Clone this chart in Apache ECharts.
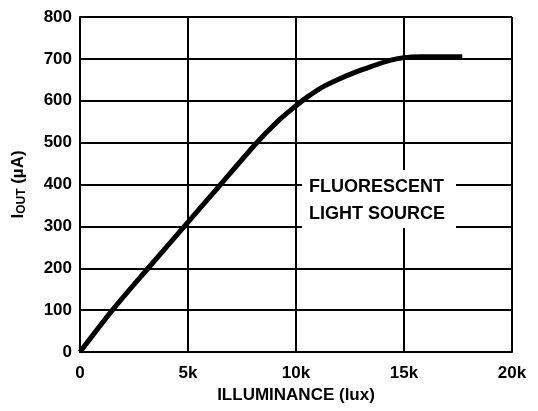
<!DOCTYPE html>
<html>
<head>
<meta charset="utf-8">
<script src="https://cdn.jsdelivr.net/npm/echarts@6/dist/echarts.min.js"></script>
<style>html,body{margin:0;padding:0;background:#fff;}#c{width:538px;height:411px;}</style>
</head>
<body>
<div id="c"></div>
<script>
// Illuminance (lux) and output current (µA)
var illuminance = [0, 1500, 3150, 4830, 6510, 8150, 9200, 10000, 10500, 11200, 12000, 12700, 13500, 14300, 15000, 15800, 16600, 17700];
var ioutValues  = [0, 100, 200, 300, 400, 498, 553, 588, 608, 632, 652, 667, 682, 696, 703, 705, 705, 705];
var xTicks = [0, 5000, 10000, 15000, 20000];
var xTickLabels = ['0', '5k', '10k', '15k', '20k'];
var yTicks = [0, 100, 200, 300, 400, 500, 600, 700, 800];
var annotationLines = ['FLUORESCENT', 'LIGHT SOURCE'];

var chart = echarts.init(document.getElementById('c'));
var font = 'Liberation Sans, Arial, sans-serif';
var data = illuminance.map(function (x, i) { return [x, ioutValues[i]]; });
chart.setOption({
  animation: false,
  backgroundColor: '#fff',
  grid: { left: 80, right: 26, top: 17, bottom: 59 },
  xAxis: {
    type: 'value', min: 0, max: 20000, interval: 5000,
    name: 'ILLUMINANCE (lux)', nameLocation: 'middle', nameGap: 35,
    nameTextStyle: { fontFamily: font, fontWeight: 'bold', fontSize: 17, color: '#000' },
    axisLine: { lineStyle: { color: '#000', width: 2 } },
    axisTick: { show: false },
    splitLine: { show: true, lineStyle: { color: '#000', width: 2 } },
    axisLabel: {
      margin: 13, fontFamily: font, fontWeight: 'bold', fontSize: 17, color: '#000',
      formatter: function (v) { var i = xTicks.indexOf(v); return i >= 0 ? xTickLabels[i] : ''; }
    }
  },
  yAxis: {
    type: 'value', min: 0, max: 800, interval: 100,
    name: '{a|I}{b|OUT}{a| (µA)}', nameLocation: 'middle', nameGap: 52, nameRotate: 90,
    nameTextStyle: {
      color: '#000',
      rich: {
        a: { fontFamily: font, fontWeight: 'bold', fontSize: 17, color: '#000' },
        b: { fontFamily: font, fontWeight: 'bold', fontSize: 12, color: '#000', padding: [8, 0, 0, 0] }
      }
    },
    axisLine: { lineStyle: { color: '#000', width: 2 } },
    axisTick: { show: false },
    splitLine: { show: true, lineStyle: { color: '#000', width: 2 } },
    axisLabel: { margin: 8, fontFamily: font, fontWeight: 'bold', fontSize: 17, color: '#000' }
  },
  series: [{
    type: 'line', data: data, smooth: 0.3, showSymbol: false,
    lineStyle: { color: '#000', width: 5 }, z: 5
  }],
  graphic: [
    { type: 'rect', left: 302, top: 170, shape: { width: 154, height: 58 }, style: { fill: '#fff' }, z: 10 },
    { type: 'text', left: 309, top: 174, z: 11,
      style: { text: annotationLines.join('\n'), font: 'bold 18px ' + font, fill: '#000', lineHeight: 27 } }
  ]
});
</script>
</body>
</html>
